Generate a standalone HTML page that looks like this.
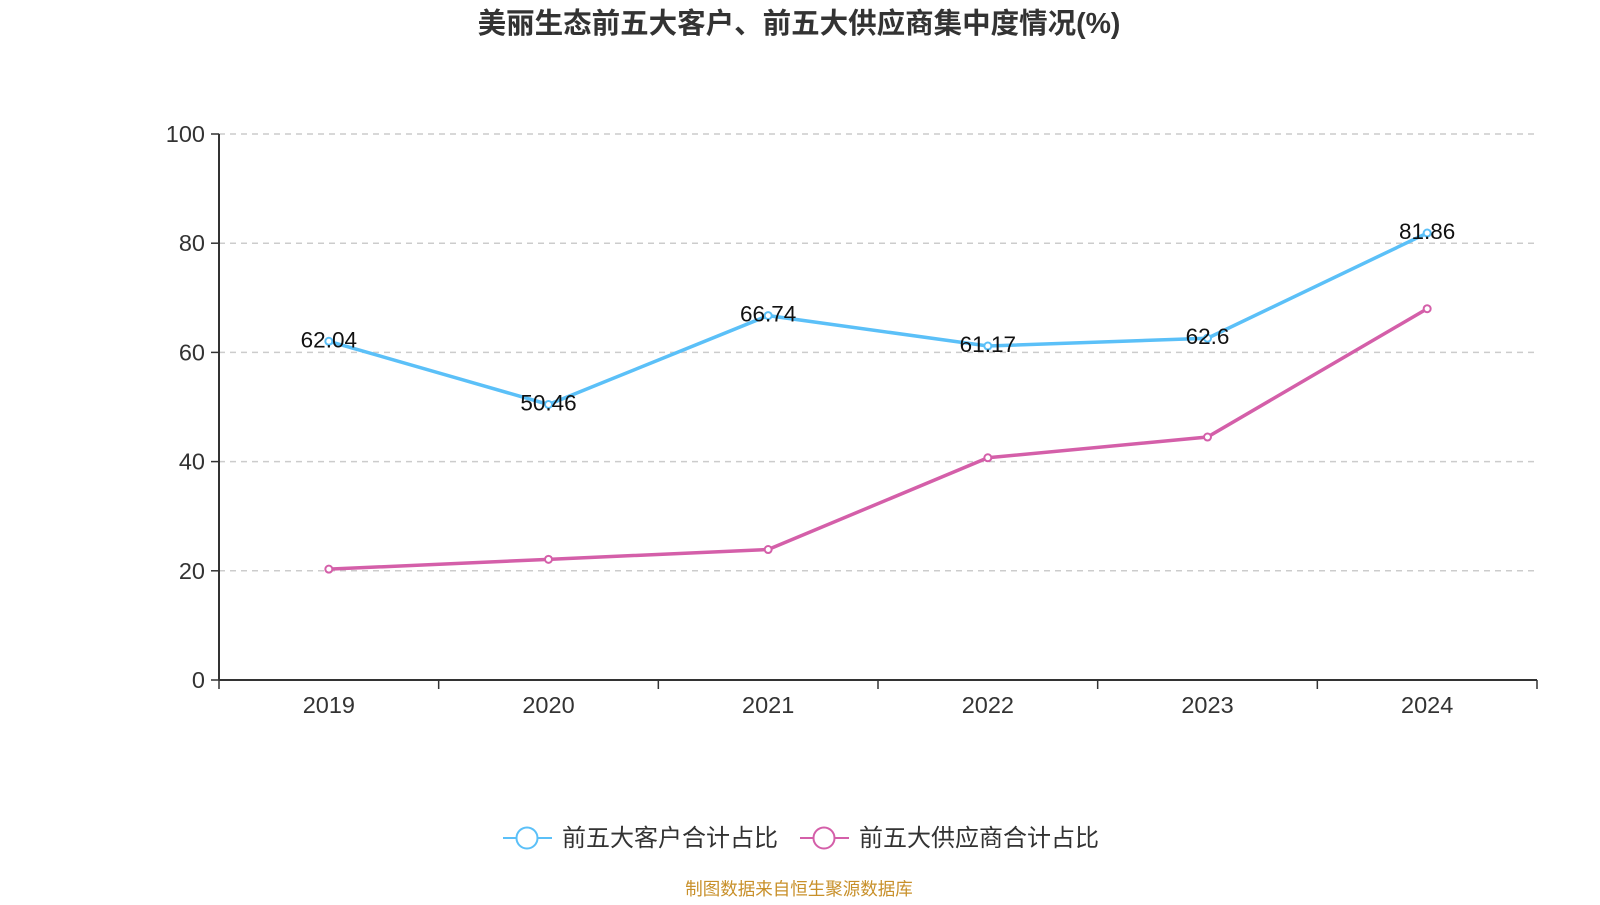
<!DOCTYPE html>
<html><head><meta charset="utf-8"><style>
body{margin:0;background:#fff;width:1600px;height:900px;overflow:hidden;font-family:"Liberation Sans","Noto Sans CJK SC",sans-serif}
</style></head><body>
<svg id="chart" width="1600" height="900" xmlns="http://www.w3.org/2000/svg" font-family="Liberation Sans, Noto Sans CJK SC, sans-serif">
<text x="799" y="33" text-anchor="middle" font-size="28.5" font-weight="bold" fill="#333">美丽生态前五大客户、前五大供应商集中度情况(%)</text>
<g id="grid"></g><g id="axes"></g><g id="series"></g>
<g>
<g>
<line x1="503" y1="838" x2="552" y2="838" stroke="#5bc0f8" stroke-width="2"/>
<circle cx="527" cy="838" r="10.5" fill="#fff" stroke="#5bc0f8" stroke-width="2"/>
<text x="562" y="846" font-size="24" fill="#333">前五大客户合计占比</text></g>
<g>
<line x1="800" y1="838" x2="849" y2="838" stroke="#d45fa9" stroke-width="2"/>
<circle cx="824" cy="838" r="10.5" fill="#fff" stroke="#d45fa9" stroke-width="2"/>
<text x="859" y="846" font-size="24" fill="#333">前五大供应商合计占比</text></g>
</g>
<text x="799" y="895" text-anchor="middle" font-size="17.5" fill="#c8902a">制图数据来自恒生聚源数据库</text>
</svg>
<script>
const categories=["2019","2020","2021","2022","2023","2024"];
const customers=[62.04,50.46,66.74,61.17,62.6,81.86];
const suppliers=[20.3,22.1,23.9,40.7,44.5,68.0];
const yTicks=[0,20,40,60,80,100];
const NS="http://www.w3.org/2000/svg";
const L=219,R=1537,T=134,B=680;
const bw=(R-L)/categories.length;
const x=i=>L+bw*(i+0.5);
const y=v=>B-(v/100)*(B-T);
function mk(p,tag,a){const e=document.createElementNS(NS,tag);for(const k in a)e.setAttribute(k,a[k]);p.appendChild(e);return e;}
const grid=document.getElementById('grid'),axes=document.getElementById('axes'),ser=document.getElementById('series');
yTicks.forEach(t=>{
 if(t>0){const g=mk(grid,'line',{x1:L,x2:R,y1:y(t),y2:y(t),stroke:'#ccc','stroke-dasharray':'6,5','stroke-width':1.5});
 
 }
 const tk=mk(axes,'line',{x1:L-8,x2:L,y1:y(t),y2:y(t),stroke:'#333','stroke-width':1.5});
 
 
 const tx=mk(axes,'text',{x:L-14,y:y(t)+8,'text-anchor':'end','font-size':23.5,fill:'#333'});tx.textContent=t;
 
 
});
const ya=mk(axes,'line',{x1:L,x2:L,y1:T,y2:B,stroke:'#333','stroke-width':2});


const xa=mk(axes,'line',{x1:L,x2:R,y1:B,y2:B,stroke:'#333','stroke-width':2});


for(let i=0;i<=categories.length;i++){const tk=mk(axes,'line',{x1:L+bw*i,x2:L+bw*i,y1:B,y2:B+9,stroke:'#333','stroke-width':1.5});
 
 }
categories.forEach((c,i)=>{const tx=mk(axes,'text',{x:x(i),y:B+33,'text-anchor':'middle','font-size':23.5,fill:'#333'});tx.textContent=c;
 
 });
function line(vals,color,name,labels){
 const p=mk(ser,'polyline',{points:vals.map((v,i)=>x(i)+','+y(v)).join(' '),fill:'none',stroke:color,'stroke-width':3.5});
 
 
 vals.forEach((v,i)=>{const c=mk(ser,'circle',{cx:x(i),cy:y(v),r:3.5,fill:'#fff',stroke:color,'stroke-width':2});
  
  
  if(labels){const t=mk(ser,'text',{x:x(i),y:y(v)+6,'text-anchor':'middle','font-size':22.5,fill:'#111'});t.textContent=v;
   
   }
 });
}
line(suppliers,'#d45fa9','suppliers',false);
line(customers,'#5bc0f8','customers',true);
</script>
</body></html>
